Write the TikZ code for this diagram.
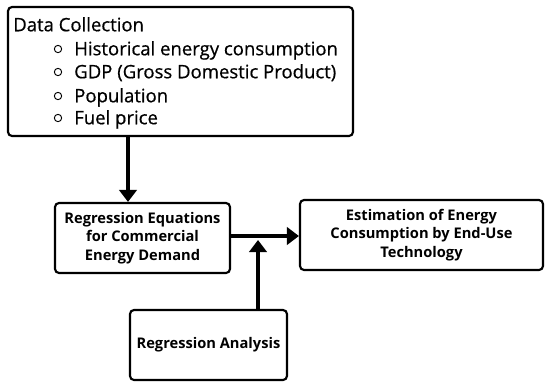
\documentclass[tikz,border=0pt]{standalone}
\usepackage{fontspec}
\setmainfont{Open Sans}
\newfontfamily\medfont[FakeBold=0.6]{Open Sans}
\usetikzlibrary{arrows.meta}
\begin{document}
\begin{tikzpicture}[x=0.75pt,y=-0.75pt,
  box/.style={draw=black,line width=1.6pt,rounded corners=3pt,fill=white},
  boxtext/.style={font=\bfseries\fontsize{11}{14}\selectfont,align=center},
  conn/.style={line width=3pt,-{Triangle[width=13pt,length=9pt]}},
  bul/.style={draw=black,line width=0.7pt,circle,inner sep=0pt,minimum size=5.5pt},
  item/.style={anchor=west,font=\medfont\fontsize{13.9}{16}\selectfont,inner sep=0pt}]
\useasboundingbox (0,0) rectangle (550,387);
% boxes
\draw[box] (8,7) rectangle (353,136);
\node[box,minimum width=175*0.75pt,minimum height=70*0.75pt] (reg) at (142.5,238) {};
\node[box,minimum width=243*0.75pt,minimum height=70*0.75pt] (est) at (421.5,235) {};
\node[box,minimum width=157*0.75pt,minimum height=70*0.75pt] (ana) at (208.5,345) {};
\coordinate (dc) at (128,136);
% texts
\node[item] (title) at (13,27) {\strut Data Collection};
\foreach \y/\t [count=\i] in {51/Historical energy consumption,74/GDP (Gross Domestic Product),98/Population,120/Fuel price}{
  \node[bul] (b\i) at (58,\y-2) {};
  \node[item] (t\i) at (74,\y) {\strut\t};
}
\node[boxtext] at (reg) {Regression Equations\\for Commercial\\Energy Demand};
\node[boxtext] at (est) {Estimation of Energy\\Consumption by End-Use\\Technology};
\node[boxtext] at (ana) {Regression Analysis};
% connectors
\draw[conn] (dc) -- (reg.north -| dc);
\draw[conn] (reg.east |- 0,236) -- (est.west |- 0,236);
\coordinate (j) at (258,240);
\draw[conn] (ana.north -| j) -- (j);
\end{tikzpicture}
\end{document}
